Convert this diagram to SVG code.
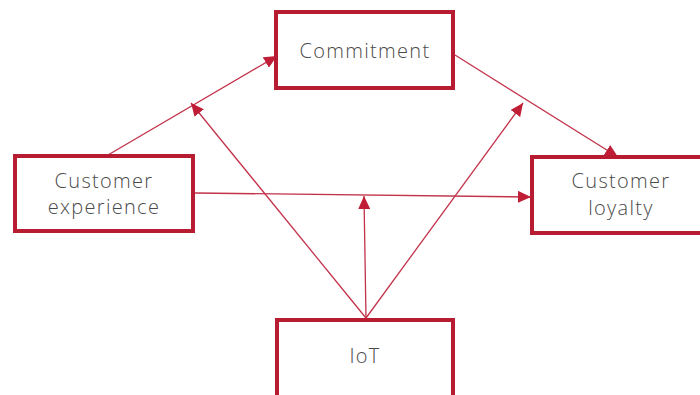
<svg xmlns="http://www.w3.org/2000/svg" width="700" height="395" viewBox="0 0 700 395">
  <style>
    .box { fill: #ffffff; stroke: #b71c32; stroke-width: 4; }
    .label { font-family: "Open Sans", "Liberation Sans", sans-serif; font-size: 20px; letter-spacing: 1.3px; fill: #4a4a4a; text-anchor: middle; font-weight: 300; }
    .edge { stroke: #c2334a; stroke-width: 1.3; fill: none; marker-end: url(#arrow); }
  </style>
  <defs>
    <marker id="arrow" markerUnits="userSpaceOnUse" markerWidth="14" markerHeight="12" refX="13" refY="6" orient="auto">
      <path d="M0,0 L13,6 L0,12 Z" fill="#bf1e36"/>
    </marker>
  </defs>
  <rect width="700" height="395" fill="#ffffff"/>

  <g id="connectors">
    <line class="edge" x1="108" y1="155" x2="277" y2="56"/>
    <line class="edge" x1="455" y1="55" x2="618" y2="157"/>
    <line class="edge" x1="195" y1="193" x2="531" y2="197"/>
    <line class="edge" x1="366" y1="318" x2="191" y2="103"/>
    <line class="edge" x1="366" y1="318" x2="364" y2="196"/>
    <line class="edge" x1="366" y1="318" x2="523" y2="103"/>
  </g>

  <g id="commitment">
    <rect class="box" x="276" y="12" width="177" height="76"/>
    <text class="label" x="365" y="58">Commitment</text>
  </g>

  <g id="customer-experience">
    <rect class="box" x="15" y="156" width="178" height="75"/>
    <text class="label" x="104" y="188">Customer</text>
    <text class="label" x="104" y="214">experience</text>
  </g>

  <g id="customer-loyalty">
    <rect class="box" x="532" y="157" width="175" height="76"/>
    <text class="label" x="621" y="188">Customer</text>
    <text class="label" x="621" y="215">loyalty</text>
  </g>

  <g id="iot">
    <rect class="box" x="277" y="320" width="176" height="82"/>
    <text class="label" x="365" y="363">IoT</text>
  </g>
</svg>
